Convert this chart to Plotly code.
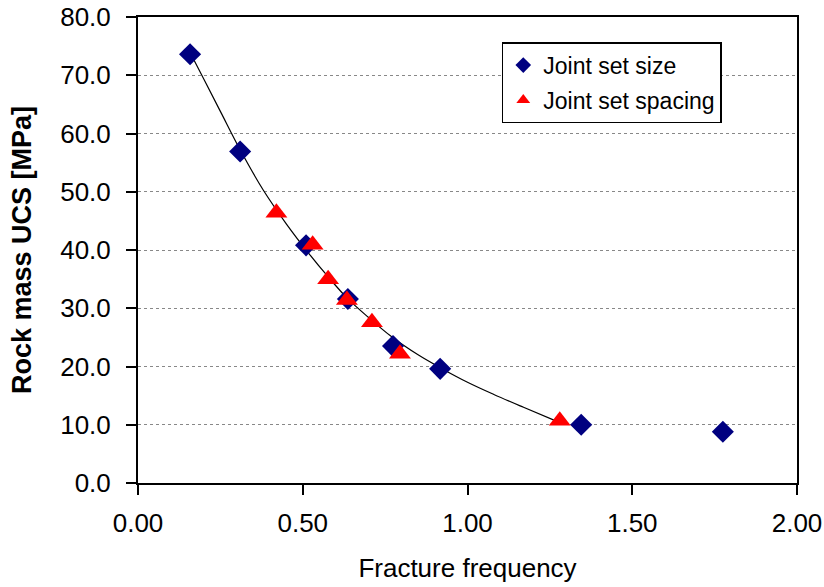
import plotly.graph_objects as go

size_x = [0.158, 0.31, 0.51, 0.637, 0.774, 0.917, 1.345, 1.775]
size_y = [73.6, 56.9, 40.8, 31.6, 23.5, 19.6, 10.0, 8.8]

spacing_x = [0.42, 0.53, 0.577, 0.634, 0.71, 0.795, 1.28]
spacing_y = [46.4, 40.9, 35.0, 31.4, 27.6, 22.2, 10.7]

fit_x = [0.16, 0.20, 0.25, 0.31, 0.38, 0.45, 0.52, 0.58, 0.637, 0.70, 0.77, 0.85, 0.917, 1.00, 1.08, 1.17, 1.275]
fit_y = [73.7, 69.3, 63.8, 57.2, 50.3, 44.5, 39.3, 35.2, 31.6, 28.4, 25.1, 22.0, 19.8, 17.3, 15.2, 13.0, 10.5]

x_ticks = [0.0, 0.5, 1.0, 1.5, 2.0]
x_tick_labels = ["0.00", "0.50", "1.00", "1.50", "2.00"]
y_ticks = [0, 10, 20, 30, 40, 50, 60, 70, 80]
y_tick_labels = ["0.0", "10.0", "20.0", "30.0", "40.0", "50.0", "60.0", "70.0", "80.0"]

FONT = "Liberation Sans, Arial, sans-serif"

fig = go.Figure()
fig.add_trace(go.Scatter(x=fit_x, y=fit_y, mode="lines", line=dict(color="black", width=1.2, shape="spline"),
                         showlegend=False, hoverinfo="skip"))
fig.add_trace(go.Scatter(x=size_x, y=size_y, mode="markers", name="Joint set size", legendgroup="a",
                         marker=dict(symbol="diamond", size=17, color="#000080", line=dict(width=0))))
fig.add_trace(go.Scatter(x=spacing_x, y=spacing_y, mode="markers", name="Joint set spacing", legendgroup="b",
                         marker=dict(symbol="triangle-up", size=19, color="#ff0000", line=dict(width=0))))

fig.update_layout(
    width=824, height=587,
    margin=dict(l=138, r=27, t=17, b=104, autoexpand=False),
    paper_bgcolor="white", plot_bgcolor="white",
    font=dict(family=FONT, color="black", size=26),
    legend=dict(x=0.552, y=0.946, xanchor="left", yanchor="top",
                bordercolor="black", borderwidth=1.5, bgcolor="white",
                font=dict(size=23, family=FONT), itemsizing="constant",
                tracegroupgap=2, itemwidth=30, traceorder="grouped"),
    xaxis=dict(range=[0, 2], tickvals=x_ticks, ticktext=x_tick_labels, automargin=False,
               showgrid=False, zeroline=False, showline=True, linecolor="black", linewidth=2,
               mirror=True, ticks="outside", ticklen=10, tickwidth=1.5, tickcolor="black",
               ticklabelstandoff=6, ticklabeloverflow="allow",
               title=dict(text="Fracture frequency", font=dict(size=26), standoff=22),
               tickfont=dict(size=26)),
    yaxis=dict(range=[0, 80], tickvals=y_ticks, ticktext=y_tick_labels, automargin=False,
               showgrid=True, gridcolor="#888888", griddash="dot", gridwidth=1,
               zeroline=False, showline=True, linecolor="black", linewidth=2,
               mirror=True, ticks="outside", ticklen=10, tickwidth=1.5, tickcolor="black",
               ticklabelstandoff=10, ticklabeloverflow="allow",
               title=dict(text="<b>Rock mass UCS [MPa]</b>", font=dict(size=27), standoff=21),
               tickfont=dict(size=26)),
)

fig.write_html("out.html", config={"displayModeBar": False},
               post_script="document.body.style.margin='0';document.body.style.overflow='hidden';")
